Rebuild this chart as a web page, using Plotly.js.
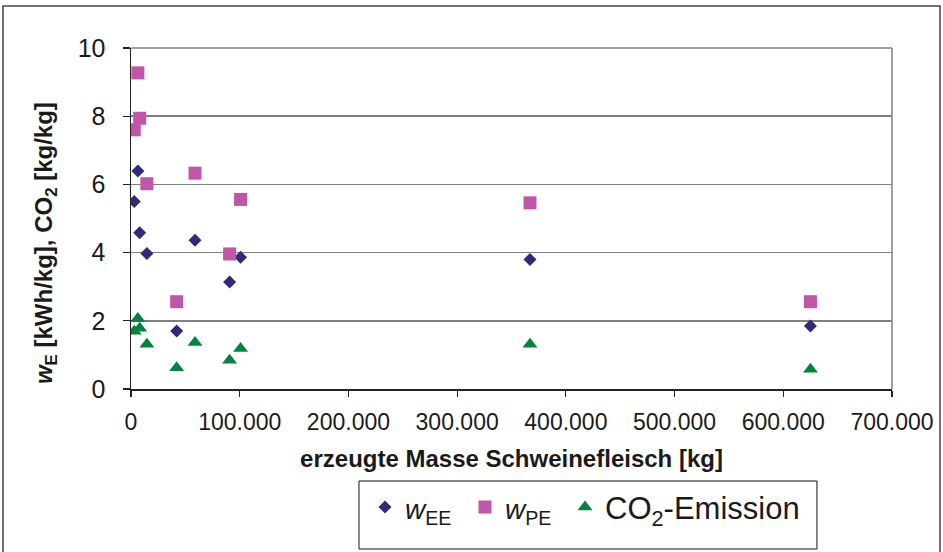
<!DOCTYPE html>
<html>
<head>
<meta charset="utf-8">
<script src="https://cdn.plot.ly/plotly-3.0.1.min.js"></script>
<style>
  html, body { margin: 0; padding: 0; background: #ffffff; }
  #chart { width: 943px; height: 552px; }
</style>
</head>
<body>
<div id="chart"></div>
<script>
// erzeugte Masse Schweinefleisch [kg] per Betrieb
const masse = [3000, 6300, 8000, 14600, 42000, 58900, 90700, 100800, 367000, 625000];
// spezifischer Endenergiebedarf w_EE [kWh/kg]
const wEE = [5.50, 6.39, 4.58, 3.97, 1.70, 4.36, 3.14, 3.86, 3.80, 1.85];
// spezifischer Primärenergiebedarf w_PE [kWh/kg]
const wPE = [7.60, 9.27, 7.94, 6.02, 2.56, 6.33, 3.96, 5.56, 5.46, 2.56];
// CO2-Emission [kg/kg]
const co2 = [1.69, 2.07, 1.78, 1.31, 0.62, 1.36, 0.84, 1.19, 1.31, 0.58];

const seriesNames = [
  '<span style="font-size:28px"><i>w</i><sub>EE</sub></span>\u00a0',
  '<span style="font-size:28px"><i>w</i><sub>PE</sub></span>\u00a0',
  'CO<sub>2</sub>-Emission'
];
const xTickVals = [0, 100000, 200000, 300000, 400000, 500000, 600000, 700000];
const xTickText = ['0', '100.000', '200.000', '300.000', '400.000', '500.000', '600.000', '700.000'];
const yTickVals = [0, 2, 4, 6, 8, 10];
const xTitle = '<b>erzeugte Masse Schweinefleisch [kg]</b>';
const yTitle = '<b><i>w</i><sub>E</sub> [kWh/kg], CO<sub>2</sub> [kg/kg]</b>';

const FONT = '"Liberation Sans", Arial, sans-serif';

const traces = [
  { x: masse, y: wEE, name: seriesNames[0], type: 'scatter', mode: 'markers',
    marker: { symbol: 'diamond', size: 10, color: '#2E2B7C' } },
  { x: masse, y: wPE, name: seriesNames[1], type: 'scatter', mode: 'markers',
    marker: { symbol: 'square', size: 13, color: '#C155A7' } },
  { x: masse, y: co2, name: seriesNames[2], type: 'scatter', mode: 'markers',
    marker: { symbol: 'triangle-up', size: 13, color: '#00843F' } }
];

const layout = {
  width: 943, height: 552,
  margin: { l: 131, r: 51, t: 48, b: 163, pad: 0 },
  paper_bgcolor: '#ffffff', plot_bgcolor: '#ffffff',
  font: { family: FONT, color: '#1a1a1a' },
  showlegend: true,
  legend: {
    orientation: 'h', x: 0.3075, xanchor: 'left', y: -0.268, yanchor: 'top',
    font: { family: FONT, size: 31, color: '#1a1a1a' },
    bgcolor: 'rgba(0,0,0,0)', borderwidth: 0
  },
  xaxis: {
    range: [0, 700000], tickvals: xTickVals, ticktext: xTickText,
    showgrid: false, zeroline: false,
    showline: true, linecolor: '#222', linewidth: 1.5,
    ticks: 'outside', ticklen: 6, tickwidth: 1.2, tickcolor: '#222',
    tickfont: { family: FONT, size: 23, color: '#1a1a1a' },
    ticklabelstandoff: 6,
    title: { text: xTitle, font: { family: FONT, size: 24, color: '#1a1a1a' }, standoff: 16 },
    fixedrange: true
  },
  yaxis: {
    range: [0, 10], tickvals: yTickVals,
    showgrid: true, gridcolor: '#808080', gridwidth: 1.5,
    zeroline: false,
    showline: true, linecolor: '#222', linewidth: 1.5,
    ticks: 'outside', ticklen: 7, tickwidth: 1.2, tickcolor: '#222',
    tickfont: { family: FONT, size: 25, color: '#1a1a1a' },
    ticklabelstandoff: 12,
    fixedrange: true
  },
  annotations: [
    { text: yTitle, xref: 'paper', yref: 'paper', x: -0.113, y: 0.428,
      xanchor: 'center', yanchor: 'middle', textangle: -90, showarrow: false,
      font: { family: FONT, size: 24, color: '#1a1a1a' } }
  ],
  shapes: [
    // plot area top and right border
    { type: 'line', xref: 'paper', yref: 'paper', x0: 0, x1: 1, y0: 1, y1: 1, line: { color: '#808080', width: 1.5 } },
    { type: 'line', xref: 'paper', yref: 'paper', x0: 1, x1: 1, y0: 0, y1: 1, line: { color: '#808080', width: 1.5 } },
    // legend box
    { type: 'rect', xref: 'paper', yref: 'paper', x0: 0.2996, x1: 0.9014, y0: -0.4692, y1: -0.2698, line: { color: '#111', width: 1 } },
    // outer chart frame
    { type: 'rect', xref: 'paper', yref: 'paper', x0: -0.1682, x1: 1.0631, y0: -1, y1: 1.1232, line: { color: '#444', width: 1.5 } }
  ]
};

Plotly.newPlot('chart', traces, layout, { displayModeBar: false, staticPlot: true });
</script>
</body>
</html>
